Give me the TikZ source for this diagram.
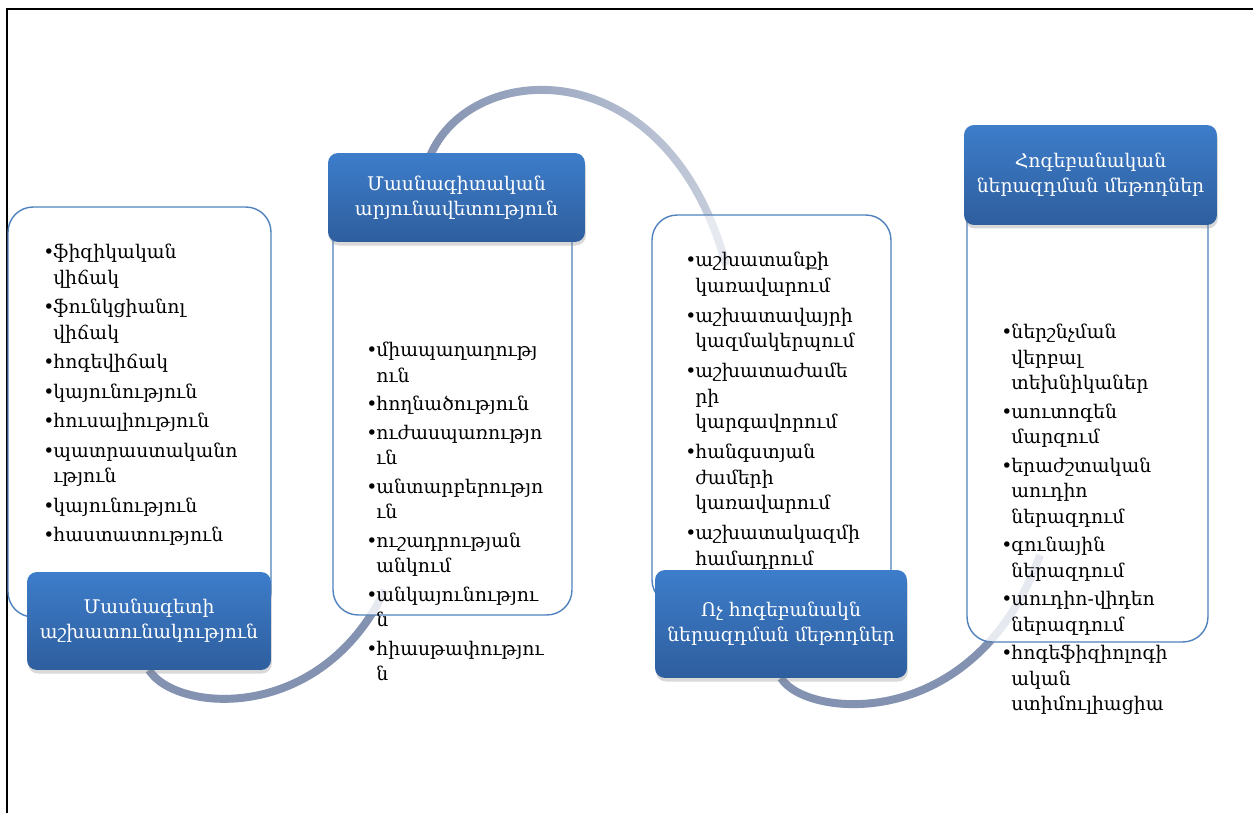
\documentclass[tikz,border=0pt]{standalone}
\usepackage{fontspec}
\setmainfont{DejaVu Serif}
\usepackage{xcolor}
\definecolor{boxline}{HTML}{4F81BD}
\definecolor{headtop}{HTML}{3D7DCA}
\definecolor{headbot}{HTML}{2E5E9E}
\definecolor{bendgray}{HTML}{8392B1}
\usetikzlibrary{
  positioning,
  shadows,
  fadings
}
\tikzfading[name=arcfade, left color=transparent!0, right color=transparent!70]

\newcommand{\blt}{\makebox[0.2cm][l]{•}}
\newcommand{\ind}{\hspace*{0.2cm}}

\begin{document}
\begin{tikzpicture}[
  x=0.02cm, y=-0.02cm,
  panel/.style={rectangle, rounded corners=0.5cm, draw=boxline, line width=0.8pt, fill=white},
  head/.style={rectangle, rounded corners=0.2cm, inner xsep=2pt, top color=headtop, bottom color=headbot, text=white, align=center, font=\fontsize{10.7}{14.2}\selectfont, drop shadow={opacity=0.3, shadow xshift=0.5pt, shadow yshift=-2pt}},
  list/.style={anchor=north west, inner sep=0pt, align=left, font=\fontsize{10.7}{14.5}\selectfont},
  bendarr/.style={line width=4.5pt, bendgray},
  frameline/.style={line width=1.2pt, black},
]
\useasboundingbox (0,0) rectangle (1253,813);

% Marco
\draw[frameline] (7,813) -- (7,9) -- (1253,9);

% Puntos de los arcos
\coordinate (a1) at (149,670);
\coordinate (a2) at (426,168);
\coordinate (a3) at (781,678);
\coordinate (e1) at (385,590);
\coordinate (e2) at (726,265);
\coordinate (e3) at (1040,555);

% Arcos (bajo los paneles)
\draw[bendarr] (a1) .. controls (175,712) and (320,725) .. (e1);
\draw[bendarr, path fading=arcfade] (a2) .. controls (455,60) and (665,40) .. (e2);
\draw[bendarr] (a3) .. controls (805,718) and (975,735) .. (e3);

% Paneles
\node[panel, minimum width=5.26cm, minimum height=8.2cm] (b1) at (139.5,412) {};
\node[panel, minimum width=4.78cm, minimum height=8.3cm] (b2) at (452.5,407.5) {};
\node[panel, minimum width=4.78cm, minimum height=7.8cm] (b3) at (771.5,410) {};
\node[panel, minimum width=4.82cm, minimum height=9.04cm] (b4) at (1087.5,416) {};

% Arcos (rastro tenue sobre los paneles)
\draw[bendarr, opacity=0.2] (a1) .. controls (175,712) and (320,725) .. (e1);
\draw[bendarr, opacity=0.2] (a2) .. controls (455,60) and (665,40) .. (e2);
\draw[bendarr, opacity=0.2] (a3) .. controls (805,718) and (975,735) .. (e3);

% Encabezados
\node[head, minimum width=4.88cm, minimum height=1.96cm] (h1) at (149,621) {Մասնագետի\\աշխատունակություն};
\node[head, minimum width=5.14cm, minimum height=1.78cm] (h2) at (456.5,197.5) {Մասնագիտական\\արյունավետություն};
\node[head, minimum width=5.04cm, minimum height=2.16cm] (h3) at (781,624) {Ոչ հոգեբանակն\\ներազդման մեթոդներ};
\node[head, minimum width=5.06cm, minimum height=2.0cm] (h4) at (1090.5,175) {Հոգեբանական\\ներազդման մեթոդներ};

% Listas
\node[list] (l1) at (43,244) {\blt ֆիզիկական\\\ind վիճակ\\[0.08cm]
  \blt ֆունկցիանոլ\\\ind վիճակ\\[0.08cm]
  \blt հոգեվիճակ\\[0.08cm]
  \blt կայունություն\\[0.08cm]
  \blt հուսալիություն\\[0.08cm]
  \blt պատրաստականո\\\ind ւթյուն\\[0.08cm]
  \blt կայունություն\\[0.08cm]
  \blt հաստատություն};
\node[list] (l2) at (366,342) {\blt միապաղաղությ\\\ind ուն\\[0.06cm]
  \blt հողնածություն\\[0.06cm]
  \blt ուժասպառությո\\\ind ւն\\[0.06cm]
  \blt անտարբերությո\\\ind ւն\\[0.06cm]
  \blt ուշադրության\\\ind անկում\\[0.06cm]
  \blt անկայունությու\\\ind ն\\[0.06cm]
  \blt հիասթափությու\\\ind ն};
\node[list] (l3) at (685,252) {\blt աշխատանքի\\\ind կառավարում\\[0.09cm]
  \blt աշխատավայրի\\\ind կազմակերպում\\[0.09cm]
  \blt աշխատաժամե\\\ind րի\\\ind կարգավորում\\[0.09cm]
  \blt հանգստյան\\\ind ժամերի\\\ind կառավարում\\[0.09cm]
  \blt աշխատակազմի\\\ind համադրում};
\node[list] (l4) at (1001,324) {\blt ներշնչման\\\ind վերբալ\\\ind տեխնիկաներ\\[0.06cm]
  \blt աուտոգեն\\\ind մարզում\\[0.06cm]
  \blt երաժշտական\\\ind աուդիո\\\ind ներազդում\\[0.06cm]
  \blt գունային\\\ind ներազդում\\[0.06cm]
  \blt աուդիո-վիդեո\\\ind ներազդում\\[0.06cm]
  \blt հոգեֆիզիոլոգի\\\ind ական\\\ind ստիմուլիացիա};

\end{tikzpicture}
\end{document}
